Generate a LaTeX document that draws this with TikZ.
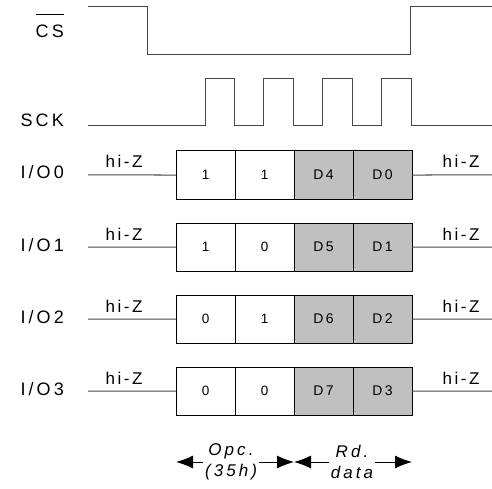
\documentclass[tikz,border=0pt]{standalone}
\usepackage{fontspec}
\setmainfont{Liberation Sans}
\usetikzlibrary{arrows.meta,positioning}
\definecolor{wavegrey}{RGB}{70,70,70}
\definecolor{datagrey}{RGB}{192,192,192}
\tikzstyle{wave} = [line width=1bp, color=wavegrey]
\tikzstyle{bitcell} = [rectangle, draw=black, line width=1bp, outer sep=0pt, inner sep=0pt, minimum width=59bp, minimum height=48bp, font=\fontsize{13.5bp}{14bp}\selectfont\addfontfeature{LetterSpace=15}]
\tikzstyle{datacell} = [bitcell, fill=datagrey, font=\fontsize{14bp}{15bp}\selectfont\addfontfeature{LetterSpace=18}]
\tikzstyle{siglabel} = [anchor=base east, inner sep=0pt, font=\fontsize{18bp}{20bp}\selectfont\addfontfeature{LetterSpace=17}]
\tikzstyle{hiz} = [anchor=base, inner sep=0pt, font=\fontsize{17bp}{19bp}\selectfont\addfontfeature{LetterSpace=15}]
\tikzstyle{span} = [align=center, inner sep=2bp, font=\fontsize{17bp}{21bp}\selectfont\itshape\addfontfeature{LetterSpace=18}]
\tikzstyle{dimarrow} = [line width=1bp, -{Latex[length=17bp,width=13bp]}]

\begin{document}
\begin{tikzpicture}[x=1bp, y=-1bp]
\useasboundingbox (0,0) rectangle (492,489);

% signal names
\node (cs) [siglabel] at (64,38) {CS};
\draw[line width=1bp] ([yshift=23bp]cs.base west) -- ([yshift=23bp]cs.base east);
\node (sck) [siglabel] at (64,127) {SCK};
\node (io0) [siglabel] at (64,179) {I/O0};
\node (io1) [siglabel] at (64,251) {I/O1};
\node (io2) [siglabel] at (64,323) {I/O2};
\node (io3) [siglabel] at (64,395) {I/O3};

% chip select and clock
\draw[wave] (88,7) -- (147,7) -- (147,55) -- (410,55) -- (410,7) -- (492,7);
\draw[wave] (88,126) -- (205,126) -- (205,79) -- (234,79) -- (234,126)
  -- (263,126) -- (263,79) -- (293,79) -- (293,126)
  -- (322,126) -- (322,79) -- (352,79) -- (352,126)
  -- (381,126) -- (381,79) -- (411,79) -- (411,126) -- (492,126);

% I/O0
\node (c00) [bitcell, anchor=north west] at (176,151) {1};
\node (c01) [bitcell, right=0pt of c00] {1};
\node (c02) [datacell, right=0pt of c01] {D4};
\node (c03) [datacell, right=0pt of c02] {D0};
% I/O1
\node (c10) [bitcell, anchor=north west] at (176,223) {1};
\node (c11) [bitcell, right=0pt of c10] {0};
\node (c12) [datacell, right=0pt of c11] {D5};
\node (c13) [datacell, right=0pt of c12] {D1};
% I/O2
\node (c20) [bitcell, anchor=north west] at (176,295) {0};
\node (c21) [bitcell, right=0pt of c20] {1};
\node (c22) [datacell, right=0pt of c21] {D6};
\node (c23) [datacell, right=0pt of c22] {D2};
% I/O3
\node (c30) [bitcell, anchor=north west] at (176,367) {0};
\node (c31) [bitcell, right=0pt of c30] {0};
\node (c32) [datacell, right=0pt of c31] {D7};
\node (c33) [datacell, right=0pt of c32] {D3};

% hi-Z lines
\coordinate (l0) at (88,175);  \coordinate (r0) at (492,175);
\coordinate (l1) at (88,247);  \coordinate (r1) at (492,247);
\coordinate (l2) at (88,319);  \coordinate (r2) at (492,319);
\coordinate (l3) at (88,391);  \coordinate (r3) at (492,391);
\draw[wave] (l0) -- (c00.west); \draw[wave] (c03.east) -- (r0);
\draw[wave] (l1) -- (c10.west); \draw[wave] (c13.east) -- (r1);
\draw[wave] (l2) -- (c20.west); \draw[wave] (c23.east) -- (r2);
\draw[wave] (l3) -- (c30.west); \draw[wave] (c33.east) -- (r3);
\node (hl0) [hiz] at (124,168) {hi-Z}; \node (hr0) [hiz] at (461,168) {hi-Z};
\node (hl1) [hiz] at (124,240) {hi-Z}; \node (hr1) [hiz] at (461,240) {hi-Z};
\node (hl2) [hiz] at (124,312) {hi-Z}; \node (hr2) [hiz] at (461,312) {hi-Z};
\node (hl3) [hiz] at (124,384) {hi-Z}; \node (hr3) [hiz] at (461,384) {hi-Z};

% phases
\node (opc) [span] at (231,462) {Opc.\\(35h)};
\node (rdd) [span] at (352,462) {Rd.\\data};
\draw[dimarrow] (opc.west) -- (c30.west |- opc.west);
\draw[dimarrow] (opc.east) -- (c31.east |- opc.east);
\draw[dimarrow] (rdd.west) -- (c32.west |- rdd.west);
\draw[dimarrow] (rdd.east) -- (c33.east |- rdd.east);
\end{tikzpicture}
\end{document}
